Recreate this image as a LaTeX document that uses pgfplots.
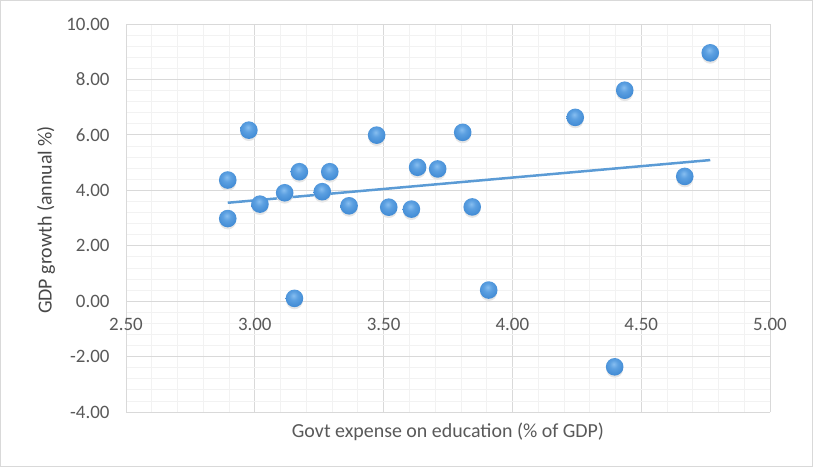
\documentclass[border=0pt]{standalone}
\usepackage{pgfplots}
\usepackage{pgfplotstable}
\pgfplotsset{compat=1.18}
\usepackage{fontspec}
\setmainfont{Carlito}

\definecolor{ticktext}{HTML}{595959}
\definecolor{majgrid}{HTML}{D9D9D9}
\definecolor{mingrid}{HTML}{F2F2F2}
\definecolor{trend}{HTML}{5B9BD5}
\definecolor{shadowgray}{HTML}{E6E6E6}

% glossy sphere used as the point marker
\pgfdeclareradialshading{sphereshade}{\pgfqpoint{-3bp}{8bp}}{%
  color(0bp)=(rgb,255:red,135;green,190;blue,240);
  color(12bp)=(rgb,255:red,92;green,160;blue,225);
  color(30bp)=(rgb,255:red,64;green,138;blue,212);
  color(50bp)=(rgb,255:red,52;green,122;blue,198);
  color(60bp)=(rgb,255:red,46;green,112;blue,186);
  color(100bp)=(rgb,255:red,46;green,112;blue,186)}
\pgfdeclareplotmark{sphere}{%
  \pgfpathcircle{\pgfpointorigin}{\pgfplotmarksize}%
  \pgfshadepath{sphereshade}{0}%
  \pgfusepath{}}
% light drop shadow just below each sphere
\pgfdeclareplotmark{sphereshadow}{%
  \pgfsetfillcolor{shadowgray}%
  \pgfpathcircle{\pgfpoint{0pt}{-2.5bp}}{\pgfplotmarksize}%
  \pgfusepath{fill}}

% Govt expense on education (% of GDP) vs GDP growth (annual %)
\pgfplotstableread{
x     y
2.895 4.37
2.895 2.98
2.977 6.17
3.020 3.50
3.116 3.91
3.154 0.10
3.173 4.67
3.262 3.95
3.291 4.67
3.366 3.44
3.473 5.99
3.520 3.39
3.608 3.32
3.632 4.83
3.710 4.77
3.807 6.09
3.844 3.40
3.908 0.40
4.244 6.63
4.397 -2.37
4.436 7.61
4.669 4.50
4.768 8.96
}\edudata

\begin{document}
\begin{tikzpicture}
  % chart area frame
  \draw[draw=majgrid, line width=1bp, use as bounding box]
    (0.5bp,0.5bp) rectangle (812.5bp,466.5bp);
  \begin{axis}[
    at={(126bp,55bp)}, anchor=south west,
    scale only axis,
    width=644bp, height=388bp,
    xmin=2.5, xmax=5, ymin=-4, ymax=10,
    xtick={2.5,3,...,5}, ytick={-4,-2,...,10},
    minor x tick num=4, minor y tick num=4,
    axis x line=middle, axis y line=left,
    axis line style={-, draw=majgrid, line width=0.75bp},
    hide obscured x ticks=false, hide obscured y ticks=false,
    grid=both,
    major grid style={draw=majgrid, line width=0.75bp},
    minor grid style={draw=mingrid, line width=0.75bp},
    major tick length=0pt, minor tick length=0pt,
    tick style={draw=none},
    /pgf/number format/assume math mode=true,
    /pgf/number format/.cd, fixed, fixed zerofill, precision=2,
    /pgfplots/.cd,
    ticklabel style={font=\fontsize{19}{21}\selectfont, text=ticktext},
    xticklabel style={anchor=north, yshift=-14bp},
    yticklabel style={anchor=east, xshift=-13bp},
    clip=false,
  ]
    % trendline (least squares fit)
    \addplot[no marks, draw=trend, line width=2.5bp]
      table[x=x, y={create col/linear regression={y=y}}] {\edudata};
    % shadows under the spheres
    \addplot[only marks, mark=sphereshadow, mark size=8.4bp]
      table[x=x, y=y] {\edudata};
    % data points
    \addplot[only marks, mark=sphere, mark size=8.8bp]
      table[x=x, y=y] {\edudata};
    % axis titles
    \node[font=\fontsize{20}{22}\selectfont, text=ticktext, anchor=center,
      yshift=-20bp]
      at (rel axis cs:0.5,0) {Govt expense on education (\% of GDP)};
    \node[font=\fontsize{20}{22}\selectfont, text=ticktext!80!black,
      xshift=-80bp, yshift=-2bp, rotate=90, anchor=center]
      at (rel axis cs:0,0.5) {GDP growth (annual \%)};
  \end{axis}
\end{tikzpicture}
\end{document}
